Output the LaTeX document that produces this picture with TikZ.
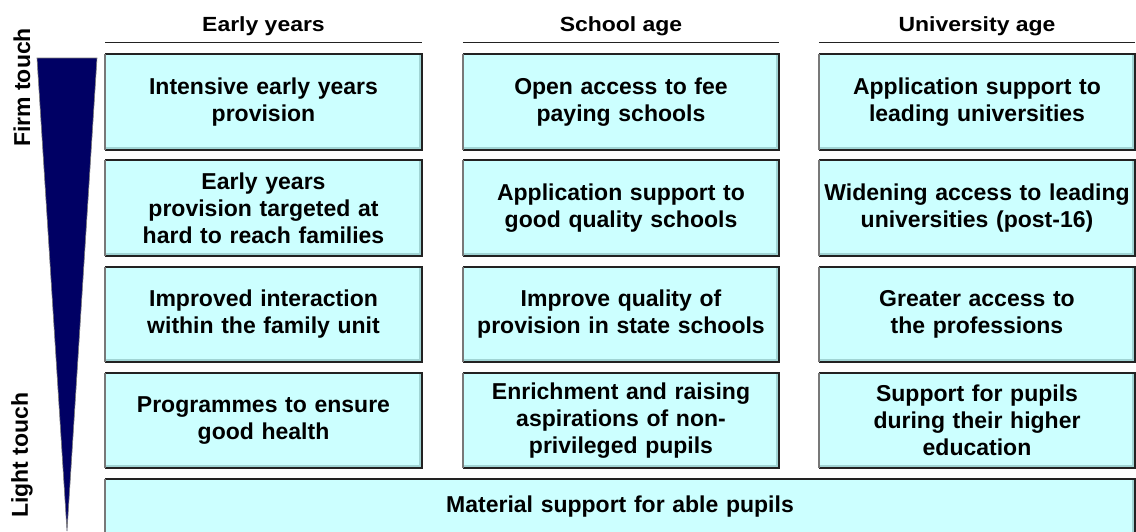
\documentclass[tikz,border=0pt]{standalone}
\usepackage{fontspec}
\setmainfont{Liberation Sans}
\newfontfamily\widefamily{Liberation Sans}[FakeStretch=1.12]
\definecolor{cellfill}{RGB}{204,255,255}
\definecolor{cellstrip}{RGB}{160,212,212}
\definecolor{edgedark}{RGB}{34,34,34}
\definecolor{edgegray}{RGB}{120,120,120}
\definecolor{wedgeblue}{RGB}{0,0,100}
\newcommand\cellfont{\fontsize{23}{27}\selectfont\bfseries}
\newcommand\headfont{\widefamily\fontsize{20.5}{24}\selectfont\bfseries}
\begin{document}
\begin{tikzpicture}[x=1pt,y=-1pt,
  cell/.style={fill=cellfill, minimum width=316pt, minimum height=95pt,
    inner sep=0pt, text width=314pt, align=center, font=\cellfont},
  wide/.style={cell, minimum width=1030pt, minimum height=56pt, text width=1000pt},
  head/.style={anchor=base, inner sep=0pt, font=\headfont},
  side/.style={rotate=90, inner sep=0pt, font=\cellfont},
  headline/.style={draw=edgedark, line width=1.6pt},
  darkedge/.style={draw=edgedark, line width=2pt, line cap=square},
  grayedge/.style={draw=edgegray, line width=1.8pt},
  strip/.style={draw=cellstrip, line width=2pt},
]
\useasboundingbox (0,0) rectangle (1136,531);
\clip (0,0) rectangle (1136,531);

% intensity wedge
\filldraw[fill=wedgeblue, draw=edgegray, line width=0.6pt]
  (37,58) -- (97,58) -- (67,531) -- cycle;
\node[side] (firm) at (22,87.5) {Firm touch};
\node[side] (light) at (22,455) {Light touch};

% column headers
\node[head] (h1) at (263.5,31) {Early years};
\node[head] (h2) at (621,31) {School age};
\node[head] (h3) at (977,31) {University age};

% cells
\node[cell] (a1) at (263.5,102) {Intensive early years\\provision};
\node[cell] (b1) at (621,102) {Open access to fee\\paying schools};
\node[cell] (c1) at (977,102) {Application support to\\leading universities};

\node[cell] (a2) at (263.5,208) {Early years\\provision targeted at\\hard to reach families};
\node[cell] (b2) at (621,208) {Application support to\\good quality schools};
\node[cell] (c2) at (977,208) {Widening access to leading\\universities (post-16)};

\node[cell] (a3) at (263.5,314.5) {Improved interaction\\within the family unit};
\node[cell] (b3) at (621,314.5) {Improve quality of\\provision in state schools};
\node[cell] (c3) at (977,314.5) {Greater access to\\the professions};

\node[cell] (a4) at (263.5,420.5) {Programmes to ensure\\good health};
\node[cell] (b4) at (621,420.5) {Enrichment and raising\\aspirations of non-\\privileged pupils};
\node[cell] (c4) at (977,420.5) {Support for pupils\\during their higher\\education};

\node[wide] (mat) at (620,507) {Material support for able pupils};

% cell borders: shaded inner strip, dark top/right/bottom, grey left
\foreach \n in {a1,b1,c1,a2,b2,c2,a3,b3,c3,a4,b4,c4,mat} {
  \draw[strip] ([xshift=-2pt]\n.north east) -- ([xshift=-2pt,yshift=2pt]\n.south east)
    -- ([xshift=1pt,yshift=2pt]\n.south west);
  \draw[darkedge] (\n.north west) -- (\n.north east) -- (\n.south east) -- (\n.south west);
  \draw[grayedge] (\n.south west) -- (\n.north west);
}

% rules under the headers
\foreach \h/\n in {h1/a1,h2/b1,h3/c1}
  \draw[headline] ([yshift=12pt]\n.north west) -- ([yshift=12pt]\n.north east);
\end{tikzpicture}
\end{document}
